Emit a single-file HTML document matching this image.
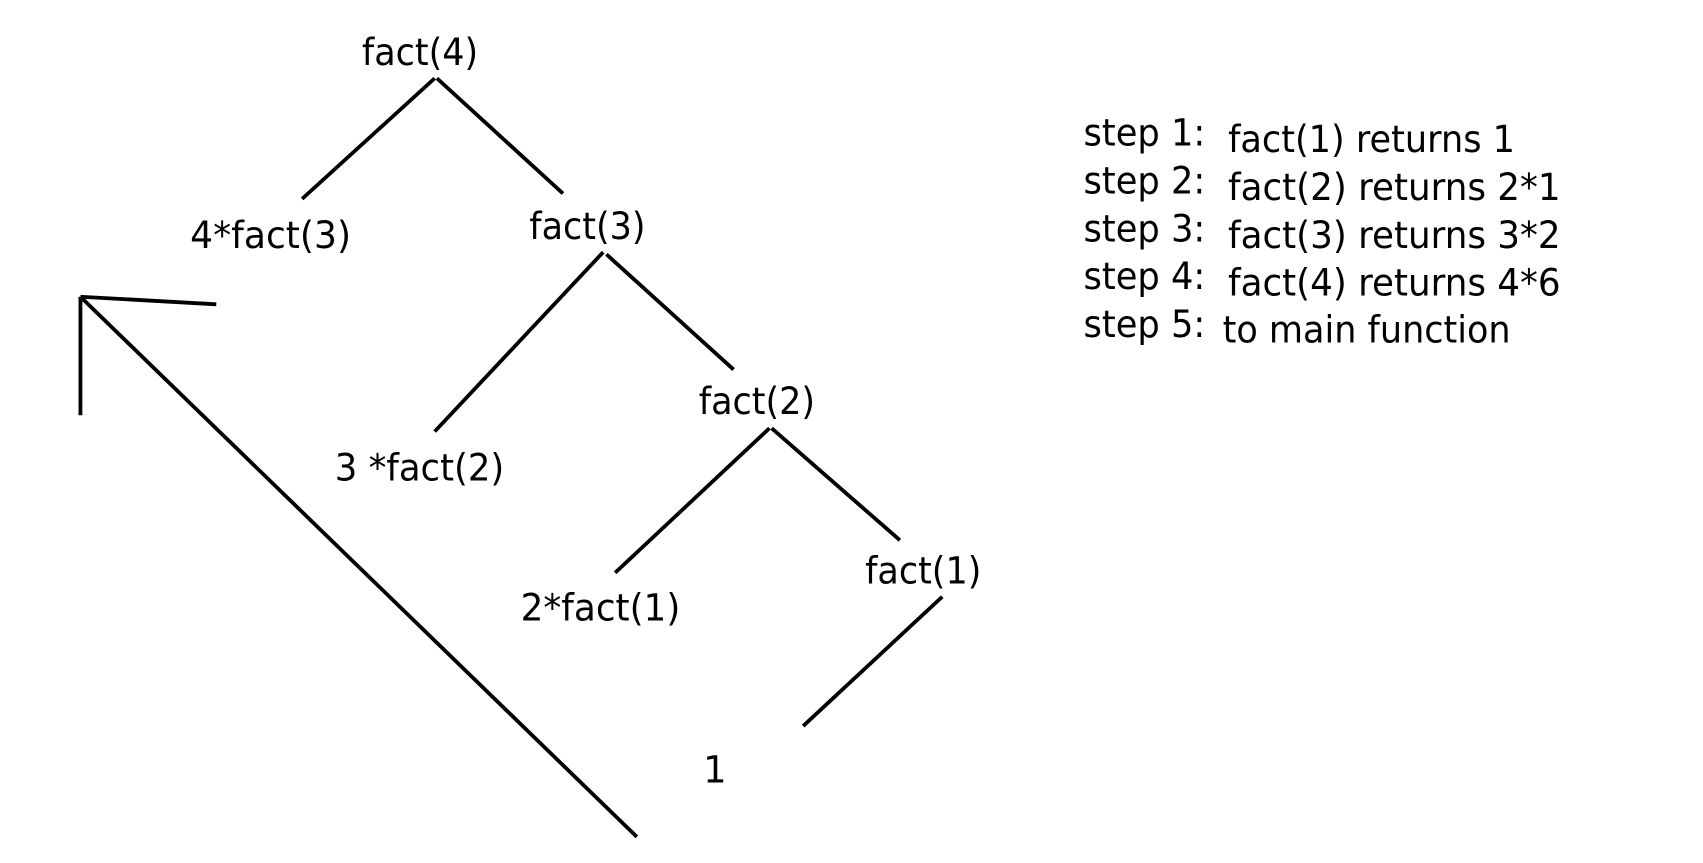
<!DOCTYPE html>
<html><head><meta charset="utf-8"><style>
html,body{margin:0;padding:0;background:#fff;width:1703px;height:863px;overflow:hidden}
svg{display:block}
text{font-family:"DejaVu Sans","Liberation Sans",sans-serif;font-size:34px;fill:#000}
</style></head><body>
<svg width="1703" height="863" viewBox="0 0 1567 794" preserveAspectRatio="none">
<g stroke="#000" stroke-width="3.5" fill="none" stroke-linecap="butt">
<line x1="400" y1="72" x2="278" y2="183"/>
<line x1="402" y1="72" x2="518" y2="178"/>
<line x1="555" y1="232" x2="400" y2="397"/>
<line x1="558" y1="234" x2="675" y2="340"/>
<line x1="708" y1="394" x2="566" y2="527"/>
<line x1="710" y1="394" x2="828" y2="497"/>
<line x1="867" y1="549" x2="739" y2="668"/>
<line x1="74" y1="273" x2="586" y2="770"/>
<line x1="74" y1="273" x2="74" y2="382"/>
<line x1="74" y1="273" x2="199" y2="280"/>
</g>
<text x="333" y="60" textLength="107" lengthAdjust="spacingAndGlyphs">fact(4)</text>
<text x="175" y="228" textLength="148" lengthAdjust="spacingAndGlyphs">4*fact(3)</text>
<text x="487" y="220" textLength="107" lengthAdjust="spacingAndGlyphs">fact(3)</text>
<text x="308" y="442" textLength="156" lengthAdjust="spacingAndGlyphs">3 *fact(2)</text>
<text x="643" y="381" textLength="107" lengthAdjust="spacingAndGlyphs">fact(2)</text>
<text x="479" y="571" textLength="147" lengthAdjust="spacingAndGlyphs">2*fact(1)</text>
<text x="796" y="537" textLength="107" lengthAdjust="spacingAndGlyphs">fact(1)</text>
<text x="647" y="720">1</text>
<text x="997" y="134" textLength="112" lengthAdjust="spacingAndGlyphs">step 1:</text>
<text x="1130" y="140" textLength="264" lengthAdjust="spacingAndGlyphs">fact(1) returns 1</text>
<text x="997" y="178" textLength="112" lengthAdjust="spacingAndGlyphs">step 2:</text>
<text x="1130" y="184" textLength="306" lengthAdjust="spacingAndGlyphs">fact(2) returns 2*1</text>
<text x="997" y="222" textLength="112" lengthAdjust="spacingAndGlyphs">step 3:</text>
<text x="1130" y="228" textLength="306" lengthAdjust="spacingAndGlyphs">fact(3) returns 3*2</text>
<text x="997" y="266" textLength="112" lengthAdjust="spacingAndGlyphs">step 4:</text>
<text x="1130" y="272" textLength="306" lengthAdjust="spacingAndGlyphs">fact(4) returns 4*6</text>
<text x="997" y="310" textLength="112" lengthAdjust="spacingAndGlyphs">step 5:</text>
<text x="1125" y="315" textLength="265" lengthAdjust="spacingAndGlyphs">to main function</text>
</svg>
</body></html>
